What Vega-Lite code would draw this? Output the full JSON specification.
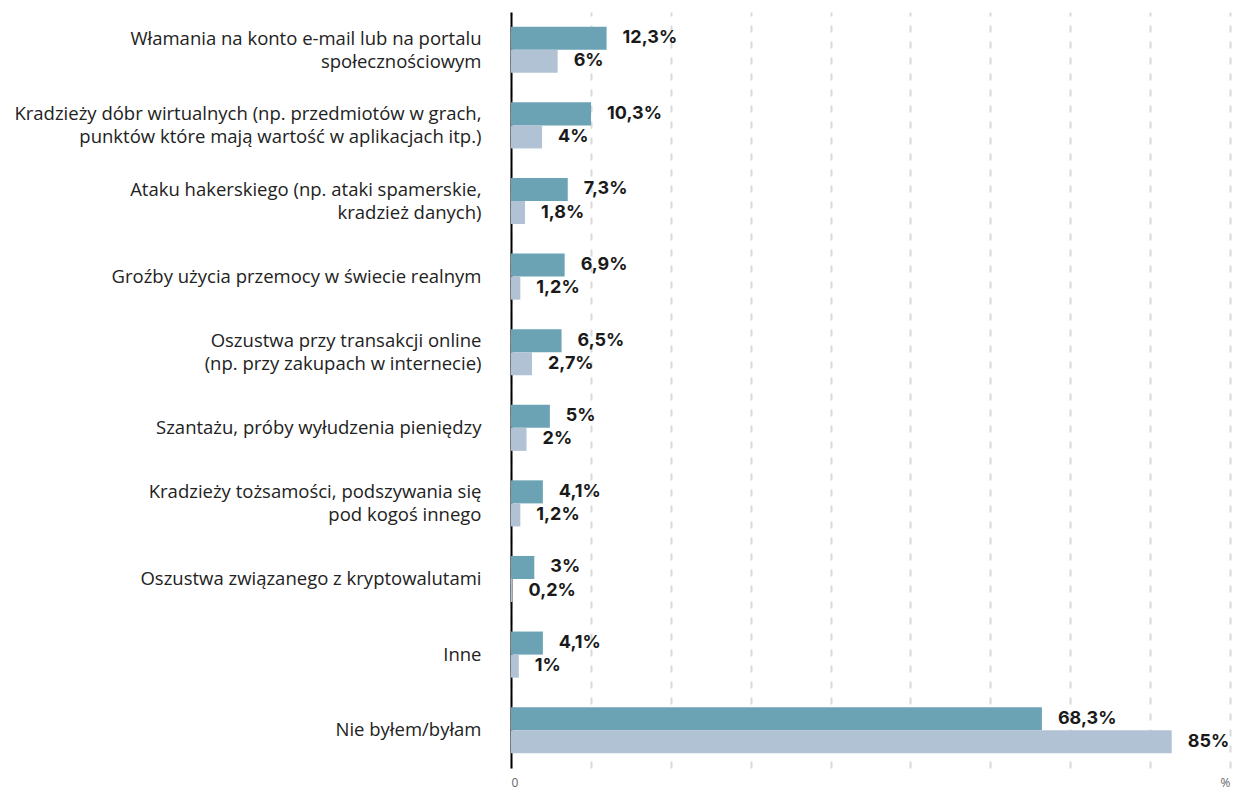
{
  "$schema": "https://vega.github.io/schema/vega-lite/v6.json",
  "width": 719,
  "height": 756,
  "autosize": "none",
  "padding": {"left": 511, "top": 12, "right": 4, "bottom": 25},
  "config": {"view": {"stroke": null}, "font": "Open Sans"},
  "data": {
    "values": [
      {"cat": "Włamania na konto e-mail lub na portalu|społecznościowym", "series": "grupa 1", "value": 12.3, "label": "12,3%"},
      {"cat": "Włamania na konto e-mail lub na portalu|społecznościowym", "series": "grupa 2", "value": 6, "label": "6%"},
      {"cat": "Kradzieży dóbr wirtualnych (np. przedmiotów w grach,|punktów które mają wartość w aplikacjach itp.)", "series": "grupa 1", "value": 10.3, "label": "10,3%"},
      {"cat": "Kradzieży dóbr wirtualnych (np. przedmiotów w grach,|punktów które mają wartość w aplikacjach itp.)", "series": "grupa 2", "value": 4, "label": "4%"},
      {"cat": "Ataku hakerskiego (np. ataki spamerskie,|kradzież danych)", "series": "grupa 1", "value": 7.3, "label": "7,3%"},
      {"cat": "Ataku hakerskiego (np. ataki spamerskie,|kradzież danych)", "series": "grupa 2", "value": 1.8, "label": "1,8%"},
      {"cat": "Groźby użycia przemocy w świecie realnym", "series": "grupa 1", "value": 6.9, "label": "6,9%"},
      {"cat": "Groźby użycia przemocy w świecie realnym", "series": "grupa 2", "value": 1.2, "label": "1,2%"},
      {"cat": "Oszustwa przy transakcji online|(np. przy zakupach w internecie)", "series": "grupa 1", "value": 6.5, "label": "6,5%"},
      {"cat": "Oszustwa przy transakcji online|(np. przy zakupach w internecie)", "series": "grupa 2", "value": 2.7, "label": "2,7%"},
      {"cat": "Szantażu, próby wyłudzenia pieniędzy", "series": "grupa 1", "value": 5, "label": "5%"},
      {"cat": "Szantażu, próby wyłudzenia pieniędzy", "series": "grupa 2", "value": 2, "label": "2%"},
      {"cat": "Kradzieży tożsamości, podszywania się|pod kogoś innego", "series": "grupa 1", "value": 4.1, "label": "4,1%"},
      {"cat": "Kradzieży tożsamości, podszywania się|pod kogoś innego", "series": "grupa 2", "value": 1.2, "label": "1,2%"},
      {"cat": "Oszustwa związanego z kryptowalutami", "series": "grupa 1", "value": 3, "label": "3%"},
      {"cat": "Oszustwa związanego z kryptowalutami", "series": "grupa 2", "value": 0.2, "label": "0,2%"},
      {"cat": "Inne", "series": "grupa 1", "value": 4.1, "label": "4,1%"},
      {"cat": "Inne", "series": "grupa 2", "value": 1, "label": "1%"},
      {"cat": "Nie byłem/byłam", "series": "grupa 1", "value": 68.3, "label": "68,3%"},
      {"cat": "Nie byłem/byłam", "series": "grupa 2", "value": 85, "label": "85%"}
    ]
  },
  "encoding": {
    "y": {
      "field": "cat", "type": "nominal", "sort": null, "title": null,
      "scale": {"paddingInner": 0.39, "paddingOuter": 0.195},
      "axis": {
        "domain": true, "domainColor": "#000000", "domainWidth": 2,
        "ticks": false, "grid": false, "labelPadding": 30,
        "labelFont": "Open Sans", "labelFontSize": 18.5, "labelColor": "#222222", "labelLimit": 0,
        "labelLineHeight": 23, "labelExpr": "split(datum.label, '|')",
        "labelOffset": {"condition": {"test": "indexof(datum.label, '|') >= 0", "value": -11}, "value": 0}
      }
    },
    "yOffset": {"field": "series", "type": "nominal", "sort": ["grupa 1", "grupa 2"]},
    "x": {
      "field": "value", "type": "quantitative", "title": null,
      "scale": {"domain": [0, 92.5], "nice": false, "zero": true},
      "axis": {
        "values": [0, 10.2778, 20.5556, 30.8333, 41.1111, 51.3889, 61.6667, 71.9444, 82.2222, 92.5],
        "grid": true, "gridDash": [7, 9], "gridColor": "#d9d9d9", "gridWidth": 2,
        "domain": false, "ticks": false,
        "labelExpr": "datum.value == 0 ? '0' : (datum.value > 90 ? '%' : '')",
        "labelFontSize": 12, "labelColor": "#666666", "labelPadding": 9
      }
    }
  },
  "layer": [
    {
      "mark": {"type": "bar"},
      "encoding": {
        "color": {"field": "series", "type": "nominal", "scale": {"domain": ["grupa 1", "grupa 2"], "range": ["#6ba3b5", "#b0c2d3"]}, "legend": null}
      }
    },
    {
      "mark": {"type": "text", "align": "left", "baseline": "middle", "dx": 16, "font": "Inter", "fontWeight": "bold", "fontSize": 18, "color": "#1a1a1a"},
      "encoding": {"text": {"field": "label", "type": "nominal"}}
    }
  ]
}
